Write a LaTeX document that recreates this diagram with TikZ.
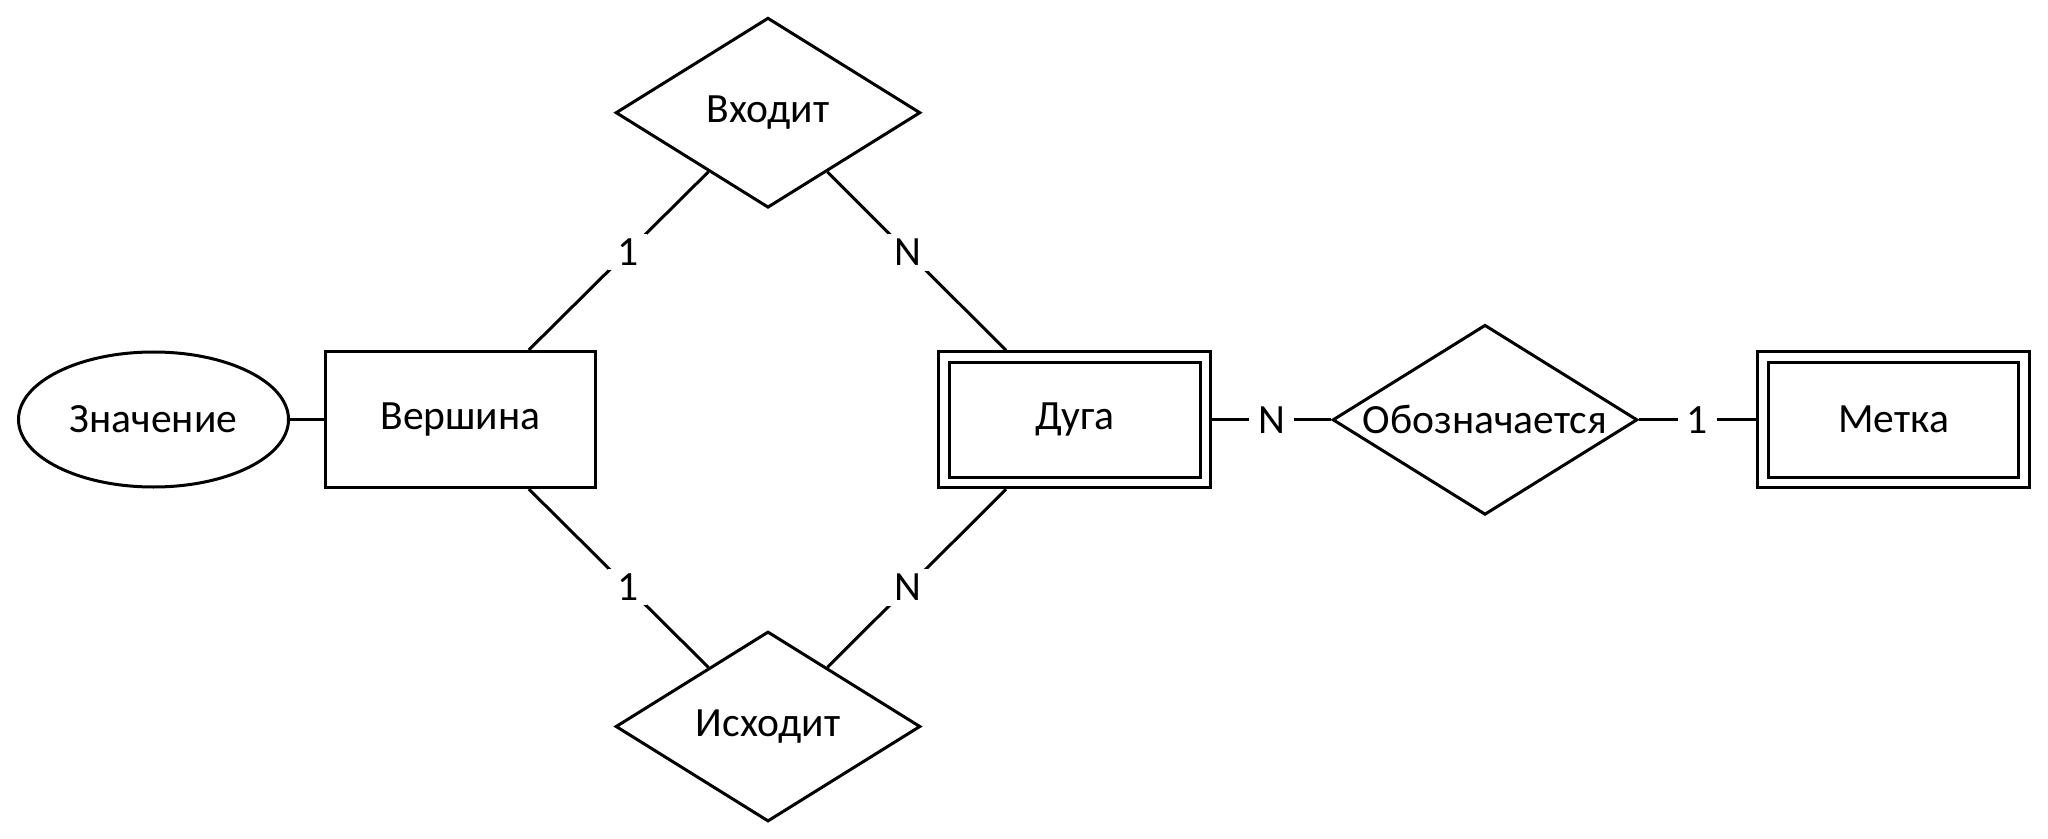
\documentclass[tikz,border=0pt]{standalone}
\usepackage{fontspec}
\setmainfont{Carlito}
\usetikzlibrary{shapes.geometric,calc}

\tikzset{
  every node/.style={font={\fontsize{20.8}{24}\selectfont}},
  entity/.style={draw, line width=1.5pt, rectangle, minimum width=135pt, minimum height=68pt, inner sep=0pt},
  weakentity/.style={draw, line width=1.5pt, double, double distance=3.85pt, rectangle,
    minimum width=130.7pt, minimum height=62.6pt, inner sep=0pt, outer sep=3.43pt},
  attrib/.style={draw, line width=1.5pt, ellipse, minimum width=135pt, minimum height=67.5pt, inner sep=0pt},
  relation/.style={draw, line width=1.5pt, diamond, aspect=1.6, minimum width=152.4pt, minimum height=95pt, inner sep=0pt},
  card/.style={fill=white, inner xsep=4.5pt, inner ysep=2.5pt},
  link/.style={line width=1.5pt}
}

\begin{document}
\begin{tikzpicture}[x=0.5pt,y=-0.5pt]
\useasboundingbox (0,0) rectangle (2048,839);
% entities and attributes
\node[attrib] (znach) at (153.5,419.5) {Значение};
\node[entity] (vx) at (460.5,419.5) {Вершина};
\node[weakentity] (arc) at (1074.8,419.8) {Дуга};
\node[weakentity] (mark) at (1893.5,419.8) {Метка};
% relationships
\node[relation] (in) at (768,112.7) {Входит};
\node[relation] (out) at (768,726.5) {Исходит};
\node[relation] (obz) at (1485,419.8) {Обозначается};
% connectors
\draw[link] (znach) -- (vx);
\draw[link] ($(vx.north west)!.75!(vx.north east)$) -- node[card, pos=.55] {1} (in);
\draw[link] ($(vx.south west)!.75!(vx.south east)$) -- node[card, pos=.55] {1} (out);
\draw[link] ($(arc.north west)!.25!(arc.north east)$) -- node[card, pos=.55] {N} (in);
\draw[link] ($(arc.south west)!.25!(arc.south east)$) -- node[card, pos=.55] {N} (out);
\draw[link] (arc) -- node[card] {N} (obz);
\draw[link] (obz) -- node[card] {1} (mark);
\end{tikzpicture}
\end{document}
